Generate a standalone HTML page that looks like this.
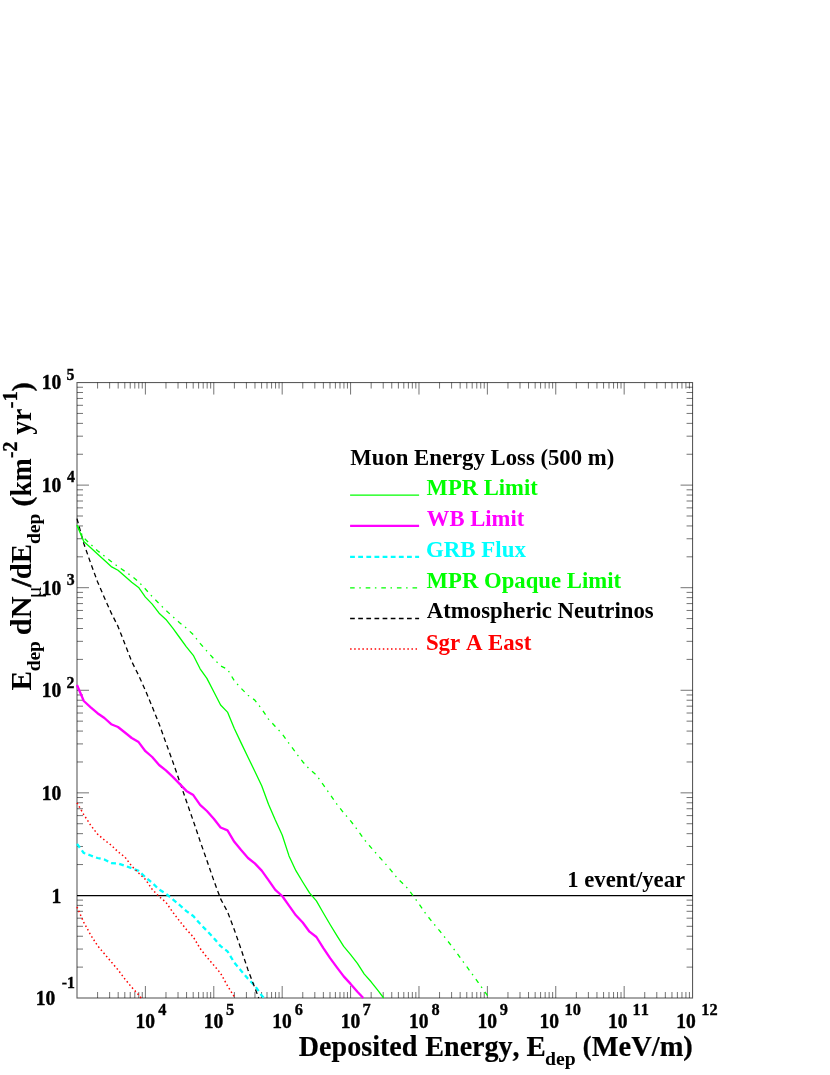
<!DOCTYPE html>
<html><head><meta charset="utf-8"><title>Muon Energy Loss</title>
<style>
html,body{margin:0;padding:0;background:#fff;}
svg{display:block;will-change:transform;font-family:"Liberation Serif",serif;font-weight:bold;font-kerning:none;}
</style></head><body>
<svg width="830" height="1075" viewBox="0 0 830 1075">
<rect x="0" y="0" width="830" height="1075" fill="#fff"/>

<g fill="none" stroke="#000" stroke-width="1" stroke-opacity="0.55">
<rect x="77.0" y="382.55" width="615.55" height="615.45" stroke-width="1.1" stroke-opacity="0.64"/>
<path d="M97.59 998.0v-6M97.59 382.55v6M109.63 998.0v-6M109.63 382.55v6M118.18 998.0v-6M118.18 382.55v6M124.81 998.0v-6M124.81 382.55v6M130.22 998.0v-6M130.22 382.55v6M134.80 998.0v-6M134.80 382.55v6M138.77 998.0v-6M138.77 382.55v6M142.26 998.0v-6M142.26 382.55v6M145.39 998.0v-12M145.39 382.55v12M165.98 998.0v-6M165.98 382.55v6M178.03 998.0v-6M178.03 382.55v6M186.57 998.0v-6M186.57 382.55v6M193.20 998.0v-6M193.20 382.55v6M198.62 998.0v-6M198.62 382.55v6M203.19 998.0v-6M203.19 382.55v6M207.16 998.0v-6M207.16 382.55v6M210.66 998.0v-6M210.66 382.55v6M213.79 998.0v-12M213.79 382.55v12M234.38 998.0v-6M234.38 382.55v6M246.42 998.0v-6M246.42 382.55v6M254.97 998.0v-6M254.97 382.55v6M261.59 998.0v-6M261.59 382.55v6M267.01 998.0v-6M267.01 382.55v6M271.59 998.0v-6M271.59 382.55v6M275.56 998.0v-6M275.56 382.55v6M279.05 998.0v-6M279.05 382.55v6M282.18 998.0v-12M282.18 382.55v12M302.77 998.0v-6M302.77 382.55v6M314.82 998.0v-6M314.82 382.55v6M323.36 998.0v-6M323.36 382.55v6M329.99 998.0v-6M329.99 382.55v6M335.40 998.0v-6M335.40 382.55v6M339.98 998.0v-6M339.98 382.55v6M343.95 998.0v-6M343.95 382.55v6M347.45 998.0v-6M347.45 382.55v6M350.58 998.0v-12M350.58 382.55v12M371.17 998.0v-6M371.17 382.55v6M383.21 998.0v-6M383.21 382.55v6M391.76 998.0v-6M391.76 382.55v6M398.38 998.0v-6M398.38 382.55v6M403.80 998.0v-6M403.80 382.55v6M408.38 998.0v-6M408.38 382.55v6M412.34 998.0v-6M412.34 382.55v6M415.84 998.0v-6M415.84 382.55v6M418.97 998.0v-12M418.97 382.55v12M439.56 998.0v-6M439.56 382.55v6M451.60 998.0v-6M451.60 382.55v6M460.15 998.0v-6M460.15 382.55v6M466.78 998.0v-6M466.78 382.55v6M472.19 998.0v-6M472.19 382.55v6M476.77 998.0v-6M476.77 382.55v6M480.74 998.0v-6M480.74 382.55v6M484.24 998.0v-6M484.24 382.55v6M487.37 998.0v-12M487.37 382.55v12M507.96 998.0v-6M507.96 382.55v6M520.00 998.0v-6M520.00 382.55v6M528.54 998.0v-6M528.54 382.55v6M535.17 998.0v-6M535.17 382.55v6M540.59 998.0v-6M540.59 382.55v6M545.17 998.0v-6M545.17 382.55v6M549.13 998.0v-6M549.13 382.55v6M552.63 998.0v-6M552.63 382.55v6M555.76 998.0v-12M555.76 382.55v12M576.35 998.0v-6M576.35 382.55v6M588.39 998.0v-6M588.39 382.55v6M596.94 998.0v-6M596.94 382.55v6M603.57 998.0v-6M603.57 382.55v6M608.98 998.0v-6M608.98 382.55v6M613.56 998.0v-6M613.56 382.55v6M617.53 998.0v-6M617.53 382.55v6M621.03 998.0v-6M621.03 382.55v6M624.16 998.0v-12M624.16 382.55v12M644.74 998.0v-6M644.74 382.55v6M656.79 998.0v-6M656.79 382.55v6M665.33 998.0v-6M665.33 382.55v6M671.96 998.0v-6M671.96 382.55v6M677.38 998.0v-6M677.38 382.55v6M681.96 998.0v-6M681.96 382.55v6M685.92 998.0v-6M685.92 382.55v6M689.42 998.0v-6M689.42 382.55v6M77.0 967.12h6M692.55 967.12h-6M77.0 949.06h6M692.55 949.06h-6M77.0 936.24h6M692.55 936.24h-6M77.0 926.30h6M692.55 926.30h-6M77.0 918.18h6M692.55 918.18h-6M77.0 911.31h6M692.55 911.31h-6M77.0 905.37h6M692.55 905.37h-6M77.0 900.12h6M692.55 900.12h-6M77.0 864.55h6M692.55 864.55h-6M77.0 846.48h6M692.55 846.48h-6M77.0 833.67h6M692.55 833.67h-6M77.0 823.73h6M692.55 823.73h-6M77.0 815.61h6M692.55 815.61h-6M77.0 808.74h6M692.55 808.74h-6M77.0 802.79h6M692.55 802.79h-6M77.0 797.54h6M692.55 797.54h-6M77.0 792.85h12M692.55 792.85h-12M77.0 761.97h6M692.55 761.97h-6M77.0 743.91h6M692.55 743.91h-6M77.0 731.09h6M692.55 731.09h-6M77.0 721.15h6M692.55 721.15h-6M77.0 713.03h6M692.55 713.03h-6M77.0 706.16h6M692.55 706.16h-6M77.0 700.22h6M692.55 700.22h-6M77.0 694.97h6M692.55 694.97h-6M77.0 690.28h12M692.55 690.28h-12M77.0 659.40h6M692.55 659.40h-6M77.0 641.33h6M692.55 641.33h-6M77.0 628.52h6M692.55 628.52h-6M77.0 618.58h6M692.55 618.58h-6M77.0 610.46h6M692.55 610.46h-6M77.0 603.59h6M692.55 603.59h-6M77.0 597.64h6M692.55 597.64h-6M77.0 592.39h6M692.55 592.39h-6M77.0 587.70h12M692.55 587.70h-12M77.0 556.82h6M692.55 556.82h-6M77.0 538.76h6M692.55 538.76h-6M77.0 525.94h6M692.55 525.94h-6M77.0 516.00h6M692.55 516.00h-6M77.0 507.88h6M692.55 507.88h-6M77.0 501.01h6M692.55 501.01h-6M77.0 495.07h6M692.55 495.07h-6M77.0 489.82h6M692.55 489.82h-6M77.0 485.12h12M692.55 485.12h-12M77.0 454.25h6M692.55 454.25h-6M77.0 436.18h6M692.55 436.18h-6M77.0 423.37h6M692.55 423.37h-6M77.0 413.43h6M692.55 413.43h-6M77.0 405.31h6M692.55 405.31h-6M77.0 398.44h6M692.55 398.44h-6M77.0 392.49h6M692.55 392.49h-6M77.0 387.24h6M692.55 387.24h-6"/>
</g>
<g fill="none" stroke-linejoin="round">
<path d="M77.0 895.5H692.55" stroke="#000" stroke-width="1.25"/>
<path d="M77.0 843.9L83.8 853.0L90.7 855.5L97.5 858.0L104.4 859.6L111.2 863.1L118.0 863.4L124.9 865.8L131.7 868.2L138.6 870.9L145.4 877.2L152.2 882.9L159.1 889.5L165.9 893.6L172.8 899.3L179.6 905.0L186.4 911.1L193.3 916.0L200.1 923.8L206.9 930.8L213.8 938.0L220.6 946.2L227.5 951.3L234.3 962.7L241.1 970.7L248.0 978.8L254.8 985.6L261.7 995.5L264.0 998.0" stroke="#00ffff" stroke-width="2.3" stroke-dasharray="4.8 3.33"/>
<path d="M77.0 518.7L83.8 543.5L90.7 563.2L97.5 581.7L104.4 597.7L111.2 612.9L118.0 626.4L124.9 643.9L131.7 661.5L138.6 675.2L145.4 690.4L152.2 706.7L159.1 723.9L165.9 742.7L172.8 761.7L179.6 781.4L186.4 801.2L193.3 820.9L200.1 841.1L206.9 860.5L213.8 880.5L220.6 898.9L227.5 911.7L234.3 929.7L241.1 949.3L248.0 969.9L254.8 987.7L258.7 998.0" stroke="#000" stroke-width="1.3" stroke-dasharray="4.7 3.43"/>
<path d="M77.0 685.0L83.8 701.0L90.7 707.3L97.5 713.2L104.4 718.0L111.2 724.2L118.0 727.0L124.9 732.5L131.7 738.0L138.6 742.1L145.4 751.2L152.2 757.0L159.1 765.0L165.9 770.4L172.8 776.9L179.6 783.9L186.4 790.9L193.3 795.1L200.1 804.8L206.9 811.0L213.8 818.7L220.6 827.5L227.5 830.4L234.3 841.8L241.1 850.1L248.0 858.0L254.8 863.4L261.7 870.6L268.5 880.1L275.3 889.9L282.2 896.0L289.0 905.6L295.9 915.3L302.7 922.5L309.5 931.7L316.4 937.0L323.2 947.9L330.1 958.1L336.9 967.4L343.7 976.4L350.6 983.9L357.4 991.7L363.3 998.0" stroke="#ff00ff" stroke-width="2.3"/>
<path d="M77.0 525.3L83.8 537.9L90.7 544.4L97.5 550.7L104.4 556.1L111.2 561.4L118.0 566.6L124.9 571.3L131.7 576.1L138.6 581.8L145.4 589.0L152.2 596.6L159.1 603.6L165.9 610.4L172.8 616.6L179.6 622.7L186.4 628.2L193.3 634.6L200.1 643.4L206.9 651.1L213.8 658.8L220.6 665.9L227.5 669.2L234.3 680.8L241.1 688.3L248.0 695.3L254.8 700.1L261.7 709.0L268.5 719.1L275.3 726.5L282.2 733.9L289.0 743.4L295.9 752.8L302.7 761.7L309.5 769.2L316.4 775.0L323.2 784.6L330.1 794.4L336.9 804.2L343.7 812.9L350.6 820.8L357.4 829.8L364.3 839.6L371.1 847.6L377.9 855.4L384.8 863.0L391.6 871.1L398.5 879.6L405.3 885.6L412.1 894.3L419.0 903.8L425.8 913.8L432.7 922.5L439.5 930.6L446.3 939.2L453.2 948.1L460.0 957.4L466.8 966.7L473.7 976.2L480.5 985.8L487.4 995.4L488.7 998.0" stroke="#00ff00" stroke-width="1.3" stroke-dasharray="4.6 4.6 1.5 4.9"/>
<path d="M77.0 525.3L83.8 541.5L90.7 547.8L97.5 554.0L104.4 560.3L111.2 566.6L118.0 570.3L124.9 576.3L131.7 582.2L138.6 587.4L145.4 597.1L152.2 604.1L159.1 613.2L165.9 619.4L172.8 628.2L179.6 637.5L186.4 646.8L193.3 655.3L200.1 668.8L206.9 678.4L213.8 691.7L220.6 705.0L227.5 712.1L234.3 728.5L241.1 742.9L248.0 757.2L254.8 771.3L261.7 785.7L268.5 804.2L275.3 820.0L282.2 835.0L289.0 855.9L295.9 870.7L302.7 882.0L309.5 892.9L316.4 900.9L323.2 912.7L330.1 924.5L336.9 935.7L343.7 946.4L350.6 954.6L357.4 963.3L364.3 974.1L371.1 981.8L377.9 990.4L383.7 998.0" stroke="#00ff00" stroke-width="1.3"/>
<path d="M77.0 802.9L83.8 814.6L90.7 825.3L97.5 834.1L104.4 840.0L111.2 845.2L118.0 851.8L124.9 857.0L131.7 866.1L138.6 873.0L145.4 879.4L152.2 889.4L159.1 896.6L165.9 902.2L172.8 912.2L179.6 921.1L186.4 929.4L193.3 937.0L200.1 948.4L206.9 957.2L213.8 965.2L220.6 973.3L227.5 985.8L235.1 998.0" stroke="#ff0000" stroke-width="1.5" stroke-dasharray="1.5 2.59"/>
<path d="M77.0 907.0L83.8 922.3L90.7 935.0L97.5 945.6L104.4 953.8L111.2 961.8L118.0 969.8L124.9 979.0L131.7 987.3L138.6 994.8L141.0 998.0" stroke="#ff0000" stroke-width="1.5" stroke-dasharray="1.5 2.59"/>
<path d="M350.1 495.1H419.1" stroke="#00ff00" stroke-width="1.3"/>
<path d="M350.1 525.9H419.1" stroke="#ff00ff" stroke-width="2.3"/>
<path d="M350.1 556.8H419.1" stroke="#00ffff" stroke-width="2.3" stroke-dasharray="4.8 3.33"/>
<path d="M350.1 587.8H419.1" stroke="#00ff00" stroke-width="1.3" stroke-dasharray="4.6 4.6 1.5 4.9"/>
<path d="M350.1 618.5H419.1" stroke="#000" stroke-width="1.3" stroke-dasharray="4.7 3.43"/>
<path d="M350.1 649.0H419.1" stroke="#ff0000" stroke-width="1.5" stroke-dasharray="1.5 2.59"/>
</g>
<g fill="#000">
<text transform="translate(350.32 465.10) scale(0.9558 1)" font-size="23.8">Muon Energy Loss (500 m)</text>
<text transform="translate(426.62 495.05) scale(0.9502 1)" font-size="23.8" fill="#00ff00">MPR Limit</text>
<text transform="translate(426.86 525.90) scale(0.9506 1)" font-size="23.8" fill="#ff00ff">WB Limit</text>
<text transform="translate(425.90 557.20) scale(0.9629 1)" font-size="23.8" fill="#00ffff">GRB Flux</text>
<text transform="translate(426.62 587.70) scale(0.9552 1)" font-size="23.8" fill="#00ff00">MPR Opaque Limit</text>
<text transform="translate(426.86 618.20) scale(0.9564 1)" font-size="23.8">Atmospheric Neutrinos</text>
<text transform="translate(425.90 649.70) scale(0.9604 1)" font-size="23.8" fill="#ff0000">Sgr A East</text>
<text transform="translate(567.26 886.60) scale(0.9540 1)" font-size="23.8">1 event/year</text>
<text transform="translate(41.74 389.10) scale(0.9670 1)" font-size="20.2" stroke="#000" stroke-width="0.4">10</text>
<text transform="translate(66.55 379.50) scale(1.0000 1)" font-size="15.8" stroke="#000" stroke-width="0.35">5</text>
<text transform="translate(41.74 491.84) scale(0.9670 1)" font-size="20.2" stroke="#000" stroke-width="0.4">10</text>
<text transform="translate(67.05 482.24) scale(1.0000 1)" font-size="15.8" stroke="#000" stroke-width="0.35">4</text>
<text transform="translate(41.74 594.58) scale(0.9670 1)" font-size="20.2" stroke="#000" stroke-width="0.4">10</text>
<text transform="translate(66.80 584.98) scale(1.0000 1)" font-size="15.8" stroke="#000" stroke-width="0.35">3</text>
<text transform="translate(41.74 697.32) scale(0.9670 1)" font-size="20.2" stroke="#000" stroke-width="0.4">10</text>
<text transform="translate(66.55 687.72) scale(1.0000 1)" font-size="15.8" stroke="#000" stroke-width="0.35">2</text>
<text transform="translate(41.74 800.06) scale(0.9670 1)" font-size="20.2" stroke="#000" stroke-width="0.4">10</text>
<text transform="translate(51.50 902.80) scale(0.9670 1)" font-size="20.2" stroke="#000" stroke-width="0.4">1</text>
<text transform="translate(35.84 1004.84) scale(0.9670 1)" font-size="20.2" stroke="#000" stroke-width="0.4">10</text>
<text transform="translate(61.70 988.24) scale(1.0000 1)" font-size="15.8" stroke="#000" stroke-width="0.35">-1</text>
<text transform="translate(135.44 1027.60) scale(0.9670 1)" font-size="20.2" stroke="#000" stroke-width="0.4">10</text>
<text transform="translate(158.15 1014.70) scale(0.9900 1)" font-size="16.5" stroke="#000" stroke-width="0.35">4</text>
<text transform="translate(203.84 1027.60) scale(0.9670 1)" font-size="20.2" stroke="#000" stroke-width="0.4">10</text>
<text transform="translate(226.05 1014.70) scale(0.9900 1)" font-size="16.5" stroke="#000" stroke-width="0.35">5</text>
<text transform="translate(272.23 1027.60) scale(0.9670 1)" font-size="20.2" stroke="#000" stroke-width="0.4">10</text>
<text transform="translate(294.69 1014.70) scale(0.9900 1)" font-size="16.5" stroke="#000" stroke-width="0.35">6</text>
<text transform="translate(340.63 1027.60) scale(0.9670 1)" font-size="20.2" stroke="#000" stroke-width="0.4">10</text>
<text transform="translate(362.59 1014.70) scale(0.9900 1)" font-size="16.5" stroke="#000" stroke-width="0.35">7</text>
<text transform="translate(409.02 1027.60) scale(0.9670 1)" font-size="20.2" stroke="#000" stroke-width="0.4">10</text>
<text transform="translate(431.48 1014.70) scale(0.9900 1)" font-size="16.5" stroke="#000" stroke-width="0.35">8</text>
<text transform="translate(477.42 1027.60) scale(0.9670 1)" font-size="20.2" stroke="#000" stroke-width="0.4">10</text>
<text transform="translate(499.87 1014.70) scale(0.9900 1)" font-size="16.5" stroke="#000" stroke-width="0.35">9</text>
<text transform="translate(539.51 1027.60) scale(0.9670 1)" font-size="20.2" stroke="#000" stroke-width="0.4">10</text>
<text transform="translate(564.52 1014.70) scale(0.9900 1)" font-size="16.5" stroke="#000" stroke-width="0.35">10</text>
<text transform="translate(607.91 1027.60) scale(0.9670 1)" font-size="20.2" stroke="#000" stroke-width="0.4">10</text>
<text transform="translate(632.52 1014.70) scale(0.9900 1)" font-size="16.5" stroke="#000" stroke-width="0.35">11</text>
<text transform="translate(676.30 1027.60) scale(0.9670 1)" font-size="20.2" stroke="#000" stroke-width="0.4">10</text>
<text transform="translate(701.31 1014.70) scale(0.9900 1)" font-size="16.5" stroke="#000" stroke-width="0.35">12</text>
<text transform="translate(298.84 1055.60) scale(0.9268 1)" font-size="30.3" stroke="#000" stroke-width="0.2">Deposited</text>
<text transform="translate(425.34 1055.60) scale(0.9257 1)" font-size="30.3" stroke="#000" stroke-width="0.2">Energy,</text>
<text transform="translate(526.52 1055.60) scale(0.9534 1)" font-size="30.3" stroke="#000" stroke-width="0.2">E</text>
<text transform="translate(545.09 1065.20) scale(1.0804 1)" font-size="18.2">dep</text>
<text transform="translate(582.82 1055.20) scale(0.9429 1)" font-size="27.6" stroke="#000" stroke-width="0.3">(</text>
<text transform="translate(591.73 1055.60) scale(0.9399 1)" font-size="30.3" stroke="#000" stroke-width="0.2">MeV/m</text>
<text transform="translate(683.37 1055.20) scale(1.0286 1)" font-size="27.6" stroke="#000" stroke-width="0.3">)</text>
<text transform="translate(31.20 690.49) rotate(-90) scale(0.9833 1)" font-size="29.9">E</text>
<text transform="translate(40.40 671.35) rotate(-90) scale(1.0035 1)" font-size="19.4">dep</text>
<text transform="translate(31.20 635.16) rotate(-90) scale(1.0110 1)" font-size="29.9">dN</text>
<text transform="translate(40.50 598.36) rotate(-90) scale(1.0629 1)" font-size="21.0" font-weight="normal">μ</text>
<text transform="translate(31.20 586.94) rotate(-90) scale(1.0286 1)" font-size="29.6" stroke="#000" stroke-width="0.7">/</text>
<text transform="translate(31.20 579.21) rotate(-90) scale(0.9659 1)" font-size="29.9">dE</text>
<text transform="translate(40.40 544.05) rotate(-90) scale(1.0035 1)" font-size="19.4">dep</text>
<text transform="translate(30.80 506.62) rotate(-90) scale(1.0571 1)" font-size="27.5" stroke="#000" stroke-width="0.4">(</text>
<text transform="translate(31.20 496.49) rotate(-90) scale(0.9193 1)" font-size="29.9">km</text>
<text transform="translate(16.50 458.11) rotate(-90) scale(0.9460 1)" font-size="20.8" stroke="#000" stroke-width="0.3">-2</text>
<text transform="translate(31.20 434.83) rotate(-90) scale(0.9284 1)" font-size="29.9">yr</text>
<text transform="translate(16.90 408.35) rotate(-90) scale(0.9935 1)" font-size="20.8" stroke="#000" stroke-width="0.3">-1</text>
<text transform="translate(30.70 391.51) rotate(-90) scale(1.0143 1)" font-size="27.5" stroke="#000" stroke-width="0.4">)</text>
</g>
</svg></body></html>
